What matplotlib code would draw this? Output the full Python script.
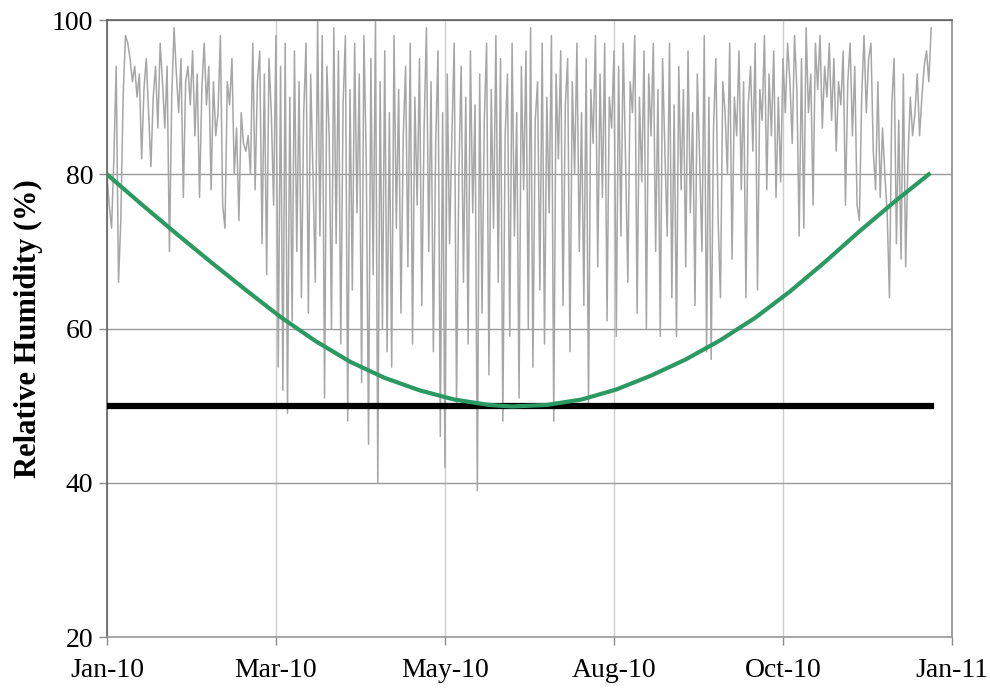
import numpy as np
import pandas as pd
import matplotlib
matplotlib.use('Agg')
import matplotlib.pyplot as plt
import matplotlib.dates as mdates

plt.rcParams['font.family'] = ['Liberation Serif', 'DejaVu Serif']

# daily relative humidity (%), starting 1 Jan 2010
rh_daily = [
    80, 76, 73, 82, 94, 66, 74, 90, 98, 97,
    95, 92, 94, 90, 93, 82, 91, 95, 88, 81,
    90, 94, 86, 97, 92, 86, 94, 70, 90, 99,
    93, 88, 95, 77, 92, 94, 89, 96, 85, 93,
    77, 91, 97, 89, 94, 78, 92, 85, 88, 98,
    76, 73, 92, 89, 95, 80, 86, 74, 88, 84,
    83, 85, 80, 97, 78, 92, 96, 71, 93, 67,
    95, 88, 76, 98, 55, 94, 52, 97, 49, 90,
    61, 96, 70, 92, 64, 88, 97, 62, 93, 80,
    66, 100, 72, 98, 51, 94, 85, 60, 99, 71,
    96, 58, 89, 98, 48, 91, 65, 97, 75, 93,
    53, 98, 82, 45, 95, 67, 100, 40, 92, 60,
    96, 57, 88, 55, 98, 73, 91, 62, 85, 94,
    68, 97, 58, 90, 76, 95, 63, 86, 99, 70,
    92, 57, 84, 96, 46, 88, 42, 93, 71, 85,
    97, 50, 80, 94, 66, 90, 58, 96, 75, 89,
    39, 93, 62, 87, 97, 54, 91, 73, 98, 66,
    95, 48, 85, 93, 59, 97, 72, 88, 51, 94,
    78, 96, 60, 99, 55, 87, 92, 65, 97, 58,
    90, 75, 98, 48, 93, 82, 96, 63, 89, 95,
    57, 92, 80, 97, 70, 88, 63, 95, 50, 91,
    84, 98, 68, 93, 77, 97, 61, 90, 86, 96,
    59, 94, 72, 97, 82, 66, 92, 88, 98, 62,
    90, 79, 96, 60, 93, 85, 97, 70, 91, 59,
    95, 83, 72, 97, 64, 89, 59, 94, 78, 91,
    68, 96, 75, 88, 63, 93, 82, 70, 98, 57,
    90, 56, 86, 95, 74, 64, 92, 88, 80, 97,
    69, 90, 85, 96, 78, 92, 64, 89, 94, 83,
    97, 65, 91, 87, 98, 78, 93, 85, 96, 77,
    90, 79, 95, 88, 97, 92, 84, 98, 91, 72,
    95, 73, 99, 88, 93, 76, 97, 91, 98, 86,
    94, 90, 97, 87, 95, 83, 92, 89, 96, 76,
    92, 97, 85, 94, 76, 74, 90, 98, 88, 95,
    97, 83, 78, 92, 77, 86, 80, 75, 64, 89,
    95, 71, 87, 69, 93, 68, 82, 90, 85, 88,
    93, 85, 90, 94, 96, 92, 99,
]

# seasonal lower limit curve (day of year, %)
limit_days = [0, 15, 30, 45, 60, 75, 90, 105, 120, 135, 150, 165, 175,
              190, 205, 220, 235, 250, 265, 280, 295, 310, 325, 340, 355]
limit_rh = [80.0, 76.1, 72.3, 68.6, 65.0, 61.5, 58.4, 55.7, 53.6, 52.0, 50.8, 50.1, 49.9,
            50.1, 50.8, 52.1, 53.9, 56.0, 58.5, 61.4, 64.8, 68.6, 72.6, 76.4, 80.0]

# constant threshold
thresh_days = [0, 356]
thresh_rh = [50, 50]

start = pd.Timestamp('2010-01-01')
dates = pd.date_range(start, periods=len(rh_daily), freq='D')
limit_dates = start + pd.to_timedelta(limit_days, unit='D')
thresh_dates = start + pd.to_timedelta(thresh_days, unit='D')

fig = plt.figure(figsize=(9.9, 6.91), dpi=100)
ax = fig.add_axes([0.108, 0.078, 0.8536, 0.893])

ax.plot(dates, rh_daily, color='#a6a6a6', lw=1.1, zorder=2)
ax.plot(thresh_dates, thresh_rh, color='black', lw=4.5, zorder=3)
ax.plot(limit_dates, limit_rh, color='#2a9a62', lw=3.0, zorder=4)

# x ticks every 73 days from 1 Jan 2010
xticks = start + pd.to_timedelta(np.arange(0, 366, 73), unit='D')
ax.set_xticks(xticks)
ax.xaxis.set_major_formatter(mdates.DateFormatter('%b-%y'))
ax.set_xlim(xticks[0], xticks[-1])

ax.set_ylim(20, 100)
ax.set_yticks([20, 40, 60, 80, 100])

ax.yaxis.grid(True, color='#9a9a9a', lw=1.0, zorder=0)
ax.xaxis.grid(True, color='#cccccc', lw=1.0, zorder=0)

for side in ['left', 'top']:
    ax.spines[side].set_color('#606060')
ax.spines['right'].set_color('#8c8c8c')
ax.spines['bottom'].set_color('#9a9a9a')
for s in ax.spines.values():
    s.set_linewidth(1.2)

ax.tick_params(axis='both', direction='out', length=6, width=1, colors='#8c8c8c',
               labelcolor='black', labelsize=20)
ax.tick_params(axis='x', pad=9)
ax.tick_params(axis='y', pad=4)

ax.set_ylabel('Relative Humidity (%)', fontsize=22, fontweight='bold', labelpad=6)

fig.savefig('out.png', dpi=100)
